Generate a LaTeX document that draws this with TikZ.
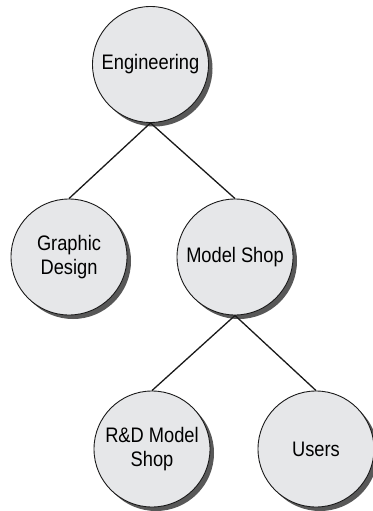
\documentclass[tikz,border=0pt]{standalone}
\usepackage{fontspec}
\setmainfont[FakeStretch=0.87]{Liberation Sans}
\usetikzlibrary{shadows}
\definecolor{bubblefill}{HTML}{E6E7E9}
\definecolor{bubbleshadow}{HTML}{585858}
\definecolor{inkline}{HTML}{1A1A1A}
\begin{document}
\begin{tikzpicture}[x=1pt,y=-1pt,
  bubble/.style={circle, draw=inkline, line width=0.9pt, fill=bubblefill,
    minimum size=116pt, inner sep=0pt, align=center,
    font=\fontsize{21}{24}\selectfont,
    drop shadow={shadow xshift=4pt, shadow yshift=-4pt, fill=bubbleshadow, opacity=1}},
  link/.style={draw=inkline, line width=1.3pt}]
\useasboundingbox (0,0) rectangle (372,511);
\fill[white] (0,0) rectangle (372,511);
\node[bubble] (eng) at (150.5,64.5) {Engineering};
\node[bubble] (gd) at (69,257) {Graphic\\Design};
\node[bubble] (ms) at (235,257) {Model Shop};
\node[bubble] (rd) at (152,449) {R\&D Model\\Shop};
\node[bubble] (us) at (316,449) {Users};
\draw[link] (eng.south) -- (gd.north);
\draw[link] (eng.south) -- (ms.north);
\draw[link] (ms.south) -- (rd.north);
\draw[link] (ms.south) -- (us.north);
\end{tikzpicture}
\end{document}
